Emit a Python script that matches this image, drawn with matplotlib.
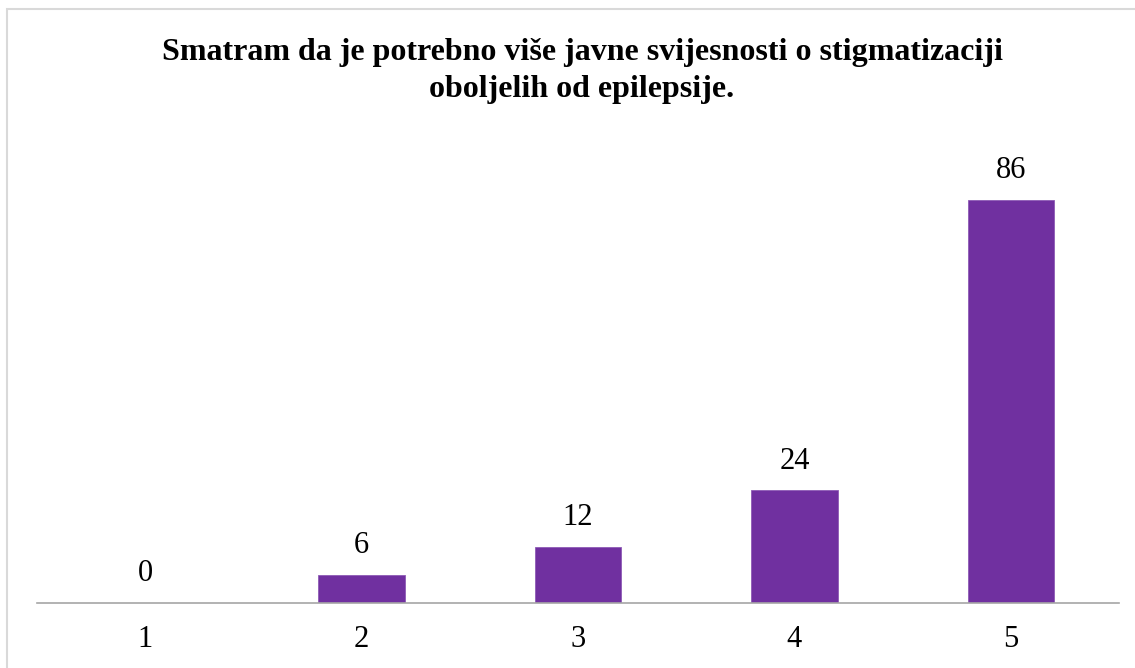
import matplotlib
matplotlib.use("Agg")
import matplotlib.pyplot as plt
from matplotlib.patches import Rectangle

categories = ["1", "2", "3", "4", "5"]
values = [0, 6, 12, 24, 86]
title = "Smatram da je potrebno više javne svijesnosti o stigmatizaciji\noboljelih od epilepsije."

plt.rcParams['font.family'] = ['Liberation Serif', 'DejaVu Serif']

W, H = 1135, 668
fig = plt.figure(figsize=(W/100, H/100), dpi=100)
fig.patch.set_facecolor('white')

# outer chart border
fig.add_artist(Rectangle((7/W, -0.05), 1.2, 1 - 9/H + 0.05, transform=fig.transFigure,
                         fill=False, edgecolor='#D9D9D9', linewidth=1.5))

ax = fig.add_axes([37/W, 65/H, (1119-37)/W, (603-134)/H])
x = range(len(categories))
bars = ax.bar(x, values, width=0.4, color='#7030A0', edgecolor='#8E5BB5', linewidth=0.6)
ax.set_xlim(-0.5, len(categories) - 0.5)
ax.set_ylim(0, 100)
ax.set_xticks(list(x))
ax.set_xticklabels(categories, fontsize=22)
ax.tick_params(axis='x', length=0, pad=16)
ax.set_yticks([])
for s in ['top', 'right', 'left']:
    ax.spines[s].set_visible(False)
ax.spines['bottom'].set_color('#A6A6A6')
ax.spines['bottom'].set_linewidth(1.2)
ax.set_facecolor('none')

for xi, v in zip(x, values):
    ax.annotate(str(v), (xi, v), xytext=(0, 21), textcoords='offset points',
                ha='center', va='center', fontsize=22)

fig.text(582/W, 1 - 71/H, title, ha='center', va='center', fontsize=23,
         fontweight='bold', linespacing=1.36)

fig.savefig('out.png', dpi=100)
